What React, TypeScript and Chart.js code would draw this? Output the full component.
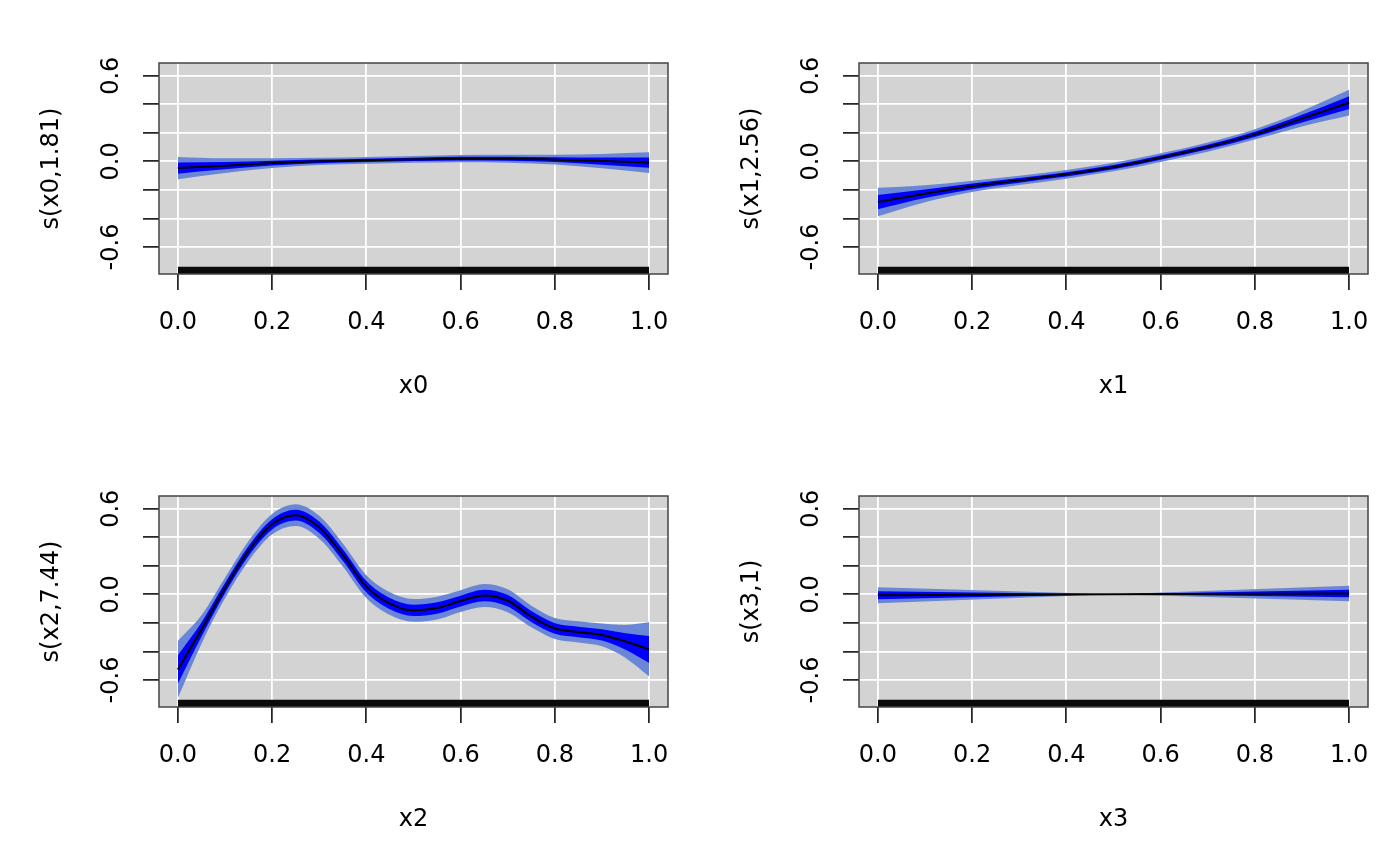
import { useEffect, useRef } from 'react';
import { Chart, registerables } from 'chart.js';

Chart.register(...registerables);

// s(x0) - smooth of x0
const x0Grid = [0, 0.1, 0.2, 0.3, 0.4, 0.5, 0.6, 0.7, 0.8, 0.9, 1.0];
const s0Fit = [-0.047, -0.03, -0.012, 0.0, 0.007, 0.014, 0.019, 0.019, 0.012, 0.002, -0.009];
const s0Se = [0.039, 0.026, 0.017, 0.013, 0.012, 0.012, 0.013, 0.014, 0.017, 0.025, 0.036];

// s(x1)
const x1Grid = [0, 0.1, 0.2, 0.3, 0.4, 0.5, 0.6, 0.7, 0.8, 0.9, 1.0];
const s1Fit = [-0.285, -0.227, -0.175, -0.133, -0.091, -0.04, 0.026, 0.1, 0.189, 0.299, 0.411];
const s1Se = [0.05, 0.03, 0.02, 0.016, 0.015, 0.015, 0.015, 0.016, 0.018, 0.027, 0.045];

// s(x2)
const x2Grid = [0, 0.05, 0.1, 0.15, 0.2, 0.25, 0.3, 0.35, 0.4, 0.45, 0.5,
  0.55, 0.6, 0.65, 0.7, 0.75, 0.8, 0.85, 0.9, 0.95, 1.0];
const s2Fit = [-0.526, -0.247, 0.044, 0.304, 0.491, 0.555, 0.47, 0.276, 0.054, -0.065, -0.112,
  -0.096, -0.047, -0.008, -0.045, -0.155, -0.239, -0.263, -0.284, -0.33, -0.386];
const s2Se = [0.1, 0.05, 0.036, 0.035, 0.036, 0.038, 0.04, 0.04, 0.04, 0.04, 0.04,
  0.04, 0.038, 0.04, 0.04, 0.038, 0.037, 0.037, 0.04, 0.058, 0.095];

// s(x3) - linear term
const x3Grid = [0, 0.5, 1.0];
const s3Fit = [-0.006, 0.0, 0.006];
const s3Se = [0.028, 0.0, 0.027];

const xTicks = [0, 0.2, 0.4, 0.6, 0.8, 1.0];
const yTicks = [-0.6, -0.4, -0.2, 0, 0.2, 0.4, 0.6];
const yLabelled = [-0.6, 0, 0.6];
const xLimits = [-0.04, 1.04];
const yLimits = [-0.789, 0.689];
const rugRange = [0, 1];

const FONT = { family: 'DejaVu Sans', size: 24 };
const RUG = 0.05; // rug tick height in y units

const panels = [
  { x: x0Grid, fit: s0Fit, se: s0Se, xTitle: 'x0', yTitle: 's(x0,1.81)', smooth: true },
  { x: x1Grid, fit: s1Fit, se: s1Se, xTitle: 'x1', yTitle: 's(x1,2.56)', smooth: true },
  { x: x2Grid, fit: s2Fit, se: s2Se, xTitle: 'x2', yTitle: 's(x2,7.44)', smooth: true },
  { x: x3Grid, fit: s3Fit, se: s3Se, xTitle: 'x3', yTitle: 's(x3,1)', smooth: false },
];

const panelFrame = {
  id: 'panelFrame',
  beforeDraw(chart: any) {
    const { ctx, chartArea: a } = chart;
    ctx.save();
    ctx.fillStyle = '#d3d3d3';
    ctx.fillRect(a.left, a.top, a.right - a.left, a.bottom - a.top);
    ctx.restore();
  },
  afterDraw(chart: any) {
    const { ctx, chartArea: a } = chart;
    ctx.save();
    ctx.strokeStyle = '#444';
    ctx.lineWidth = 1.5;
    ctx.strokeRect(a.left, a.top, a.right - a.left, a.bottom - a.top);
    ctx.restore();
  },
};

function SmoothPanel({ panel }: { panel: typeof panels[number] }) {
  const canvasRef = useRef<HTMLCanvasElement>(null);

  useEffect(() => {
    if (!canvasRef.current) return;
    const pts = (ys: number[]) => panel.x.map((x, i) => ({ x, y: ys[i] }));
    const shifted = (k: number) => pts(panel.fit.map((f, i) => f + k * panel.se[i]));
    const noLine = { borderWidth: 0, borderColor: 'rgba(0,0,0,0)' };
    const curve = panel.smooth
      ? { cubicInterpolationMode: 'monotone' }
      : { cubicInterpolationMode: 'default', tension: 0 };

    const chart = new Chart(canvasRef.current, {
      type: 'line',
      data: {
        datasets: [
          { data: pts(panel.fit), borderColor: '#000', borderWidth: 2, fill: false, ...curve },
          { data: shifted(1), fill: '+1', backgroundColor: '#0000ff', ...noLine, ...curve },
          { data: shifted(-1), fill: false, ...noLine, ...curve },
          { data: shifted(2), fill: '+1', backgroundColor: '#6a86d6', ...noLine, ...curve },
          { data: shifted(-2), fill: false, ...noLine, ...curve },
          {
            data: rugRange.map(x => ({ x, y: yLimits[0] + RUG })),
            fill: 'start', backgroundColor: '#0a0a0a', tension: 0, ...noLine,
          },
        ] as any,
      },
      options: {
        animation: false,
        responsive: true,
        maintainAspectRatio: false,
        elements: { point: { radius: 0 } },
        layout: { padding: { left: 0, top: 63, right: 32, bottom: 0 } },
        plugins: {
          legend: { display: false },
          tooltip: { enabled: false },
        },
        scales: {
          x: {
            type: 'linear',
            min: xLimits[0],
            max: xLimits[1],
            afterBuildTicks: (s: any) => { s.ticks = xTicks.map(v => ({ value: v })); },
            afterFit: (s: any) => { s.height = 159; },
            border: { display: false },
            grid: { color: '#fff', lineWidth: 1.8, tickColor: '#000', tickWidth: 1.5, tickLength: 16 },
            ticks: {
              autoSkip: false, maxRotation: 0, padding: 18, color: '#000', font: FONT,
              callback: (v: any) => Number(v).toFixed(1),
            },
            title: { display: true, text: panel.xTitle, color: '#000', font: FONT, padding: { top: 0, bottom: 31.6 } },
          },
          y: {
            type: 'linear',
            min: yLimits[0],
            max: yLimits[1],
            afterBuildTicks: (s: any) => { s.ticks = yTicks.map(v => ({ value: v })); },
            afterFit: (s: any) => { s.width = 159; },
            border: { display: false },
            grid: { color: '#fff', lineWidth: 1.8, tickColor: '#000', tickWidth: 1.5, tickLength: 16 },
            ticks: {
              autoSkip: false, minRotation: 90, maxRotation: 90, crossAlign: 'center', padding: 7.6,
              color: '#000', font: FONT,
              callback: (v: any) => (yLabelled.some(l => Math.abs(l - v) < 1e-9) ? Number(v).toFixed(1) : ''),
            },
            title: { display: true, text: panel.yTitle, color: '#000', font: FONT, padding: { top: 37.3, bottom: 0 } },
          },
        },
      } as any,
      plugins: [panelFrame],
    });

    return () => chart.destroy();
  }, [panel]);

  return (
    <div style={{ position: 'relative', width: 700, height: 433 }}>
      <canvas ref={canvasRef} />
    </div>
  );
}

export default function App() {
  return (
    <div
      style={{
        position: 'fixed', left: 0, top: 0, width: 1400, height: 866, background: '#fff',
        display: 'grid', gridTemplateColumns: '700px 700px', gridTemplateRows: '433px 433px',
      }}
    >
      {panels.map(p => <SmoothPanel key={p.xTitle} panel={p} />)}
    </div>
  );
}
